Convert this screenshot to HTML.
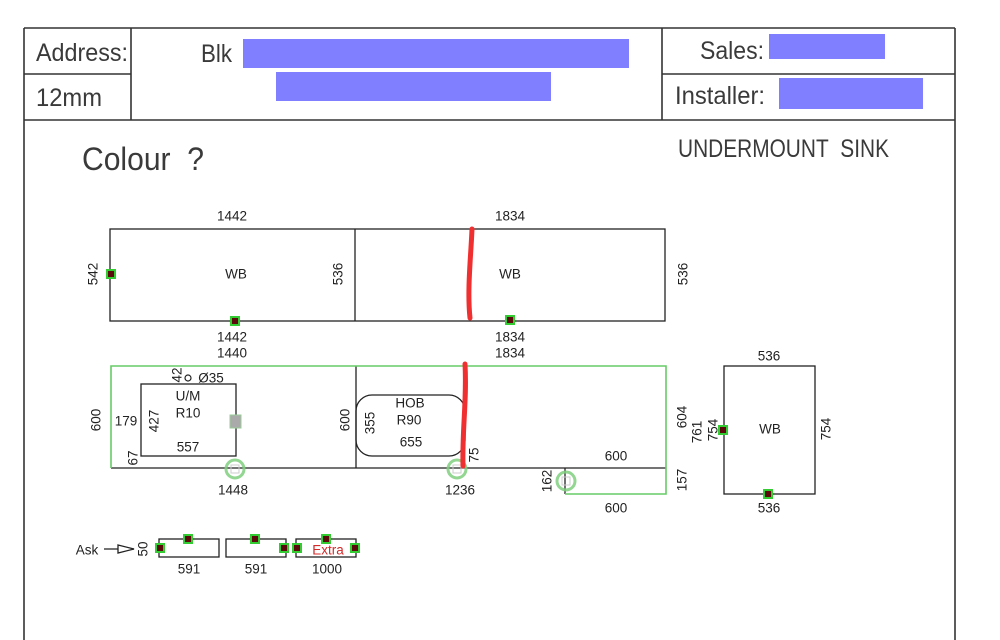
<!DOCTYPE html>
<html><head><meta charset="utf-8"><style>
html,body{margin:0;padding:0;background:#fff;}
svg{display:block;}
text{font-family:"Liberation Sans",Arial,sans-serif;fill:#222;}
.d{font-size:13.5px;text-anchor:middle;dominant-baseline:central;}
.h{font-size:25px;fill:#3a3a3a;}
</style></head><body>
<svg width="1000" height="640" viewBox="0 0 1000 640" xmlns="http://www.w3.org/2000/svg">
<rect width="1000" height="640" fill="#fff"/>
<!-- frame -->
<g stroke="#333" stroke-width="1.6" fill="none">
<line x1="24" y1="28" x2="955" y2="28"/>
<line x1="24" y1="28" x2="24" y2="640"/>
<line x1="955" y1="28" x2="955" y2="640"/>
<line x1="24" y1="120" x2="955" y2="120"/>
<line x1="24" y1="74" x2="131" y2="74"/>
<line x1="662" y1="74" x2="955" y2="74"/>
<line x1="131" y1="28" x2="131" y2="120"/>
<line x1="662" y1="28" x2="662" y2="120"/>
</g>
<!-- header text -->
<text class="h" x="36" y="61" textLength="92" lengthAdjust="spacingAndGlyphs">Address:</text>
<text class="h" x="36" y="106" textLength="66" lengthAdjust="spacingAndGlyphs">12mm</text>
<text class="h" x="201" y="62" textLength="31" lengthAdjust="spacingAndGlyphs">Blk</text>
<text class="h" x="700" y="59" textLength="64" lengthAdjust="spacingAndGlyphs">Sales:</text>
<text class="h" x="675" y="104" textLength="90" lengthAdjust="spacingAndGlyphs">Installer:</text>
<rect x="243" y="39" width="386" height="29" fill="#7f7fff"/>
<rect x="276" y="72" width="275" height="29" fill="#7f7fff"/>
<rect x="769" y="34" width="116" height="25" fill="#7f7fff"/>
<rect x="779" y="78" width="144" height="31" fill="#7f7fff"/>
<text class="h" x="82" y="170" style="font-size:32px" textLength="122" lengthAdjust="spacingAndGlyphs">Colour&#160;&#160;?</text>
<text class="h" x="678" y="157" textLength="211" lengthAdjust="spacingAndGlyphs">UNDERMOUNT&#160;&#160;SINK</text>

<!-- top row -->
<g stroke="#222" stroke-width="1.3" fill="none">
<rect x="110" y="229" width="555" height="92"/>
<line x1="355" y1="229" x2="355" y2="321"/>
</g>
<!-- second row -->
<g stroke="#222" stroke-width="1.3" fill="none">
<line x1="111" y1="468" x2="666" y2="468"/>
<line x1="356" y1="366" x2="356" y2="468"/>
<rect x="141" y="384" width="95" height="72"/>
<rect x="356" y="395" width="109" height="61" rx="16"/>
<line x1="565" y1="468" x2="565" y2="494"/>
<rect x="724" y="366" width="91" height="128"/>
</g>
<polyline points="111,468 111,366 666,366 666,494 565,494" stroke="#66cc66" stroke-width="1.6" fill="none"/>
<circle cx="188" cy="378" r="3" fill="none" stroke="#222" stroke-width="1.2"/>
<rect x="230" y="415" width="11" height="13" fill="#aaa" stroke="#9c9" stroke-width="1"/>
<g fill="none" stroke="#7fcf7f" stroke-width="3" opacity="0.85">
<circle cx="235" cy="469" r="9"/>
<circle cx="457" cy="469" r="9"/>
<circle cx="566" cy="481" r="9"/>
</g>
<g fill="none" stroke="#ccc" stroke-width="1">
<rect x="231" y="465" width="8" height="8"/>
<rect x="453" y="465" width="8" height="8"/>
<rect x="562" y="477" width="8" height="8"/>
</g>
<!-- red lines -->
<g stroke="#f03030" stroke-width="5" fill="none" stroke-linecap="round">
<path d="M472 229 C 471 255, 467 290, 470 318"/>
<path d="M465 364 C 467 400, 462 430, 463 466"/>
</g>

<!-- bottom pieces -->
<g stroke="#222" stroke-width="1.3" fill="none">
<rect x="159" y="539" width="60" height="18"/>
<rect x="226" y="539" width="60" height="18"/>
<rect x="296" y="539" width="60" height="18"/>
<line x1="104" y1="549" x2="134" y2="549"/>
<polygon points="118,545 134,549 118,553" fill="#fff"/>
</g>

<!-- markers -->
<g fill="#5a0a0a" stroke="#33cc33" stroke-width="2">
<rect x="107" y="270" width="8" height="8"/>
<rect x="231" y="317" width="8" height="8"/>
<rect x="506" y="316" width="8" height="8"/>
<rect x="719" y="426" width="8" height="8"/>
<rect x="764" y="490" width="8" height="8"/>
<rect x="156" y="544" width="8" height="8"/>
<rect x="184" y="535" width="8" height="8"/>
<rect x="251" y="535" width="8" height="8"/>
<rect x="280" y="544" width="8" height="8"/>
<rect x="293" y="544" width="8" height="8"/>
<rect x="322" y="535" width="8" height="8"/>
<rect x="351" y="544" width="8" height="8"/>
</g>

<!-- labels -->
<text class="d" x="232" y="216">1442</text>
<text class="d" x="510" y="216">1834</text>
<text class="d" x="93" y="274" transform="rotate(-90 93 274)">542</text>
<text class="d" x="236" y="274">WB</text>
<text class="d" x="510" y="274">WB</text>
<text class="d" x="338" y="274" transform="rotate(-90 338 274)">536</text>
<text class="d" x="683" y="274" transform="rotate(-90 683 274)">536</text>
<text class="d" x="232" y="337">1442</text>
<text class="d" x="232" y="353">1440</text>
<text class="d" x="510" y="337">1834</text>
<text class="d" x="510" y="353">1834</text>

<text class="d" x="96" y="420" transform="rotate(-90 96 420)">600</text>
<text class="d" x="126" y="421">179</text>
<text class="d" x="154" y="421" transform="rotate(-90 154 421)">427</text>
<text class="d" x="133" y="458" transform="rotate(-90 133 458)">67</text>
<text class="d" x="177" y="375" transform="rotate(-90 177 375)">42</text>
<text class="d" x="211" y="378">Ø35</text>
<text class="d" x="188" y="396">U/M</text>
<text class="d" x="188" y="413">R10</text>
<text class="d" x="188" y="447">557</text>
<text class="d" x="345" y="420" transform="rotate(-90 345 420)">600</text>
<text class="d" x="233" y="490">1448</text>
<text class="d" x="410" y="403">HOB</text>
<text class="d" x="409" y="420">R90</text>
<text class="d" x="411" y="442">655</text>
<text class="d" x="370" y="423" transform="rotate(-90 370 423)">355</text>
<text class="d" x="474" y="455" transform="rotate(-90 474 455)">75</text>
<text class="d" x="460" y="490">1236</text>
<text class="d" x="616" y="456">600</text>
<text class="d" x="616" y="508">600</text>
<text class="d" x="547" y="481" transform="rotate(-90 547 481)">162</text>
<text class="d" x="682" y="417" transform="rotate(-90 682 417)">604</text>
<text class="d" x="682" y="480" transform="rotate(-90 682 480)">157</text>
<text class="d" x="697" y="432" transform="rotate(-90 697 432)">761</text>
<text class="d" x="713" y="430" transform="rotate(-90 713 430)">754</text>
<text class="d" x="769" y="356">536</text>
<text class="d" x="769" y="508">536</text>
<text class="d" x="770" y="429">WB</text>
<text class="d" x="826" y="429" transform="rotate(-90 826 429)">754</text>

<text class="d" x="87" y="550">Ask</text>
<text class="d" x="143" y="549" transform="rotate(-90 143 549)">50</text>
<text class="d" x="328" y="550" style="fill:#d42a2a">Extra</text>
<text class="d" x="189" y="569">591</text>
<text class="d" x="256" y="569">591</text>
<text class="d" x="327" y="569">1000</text>
</svg>
</body></html>
